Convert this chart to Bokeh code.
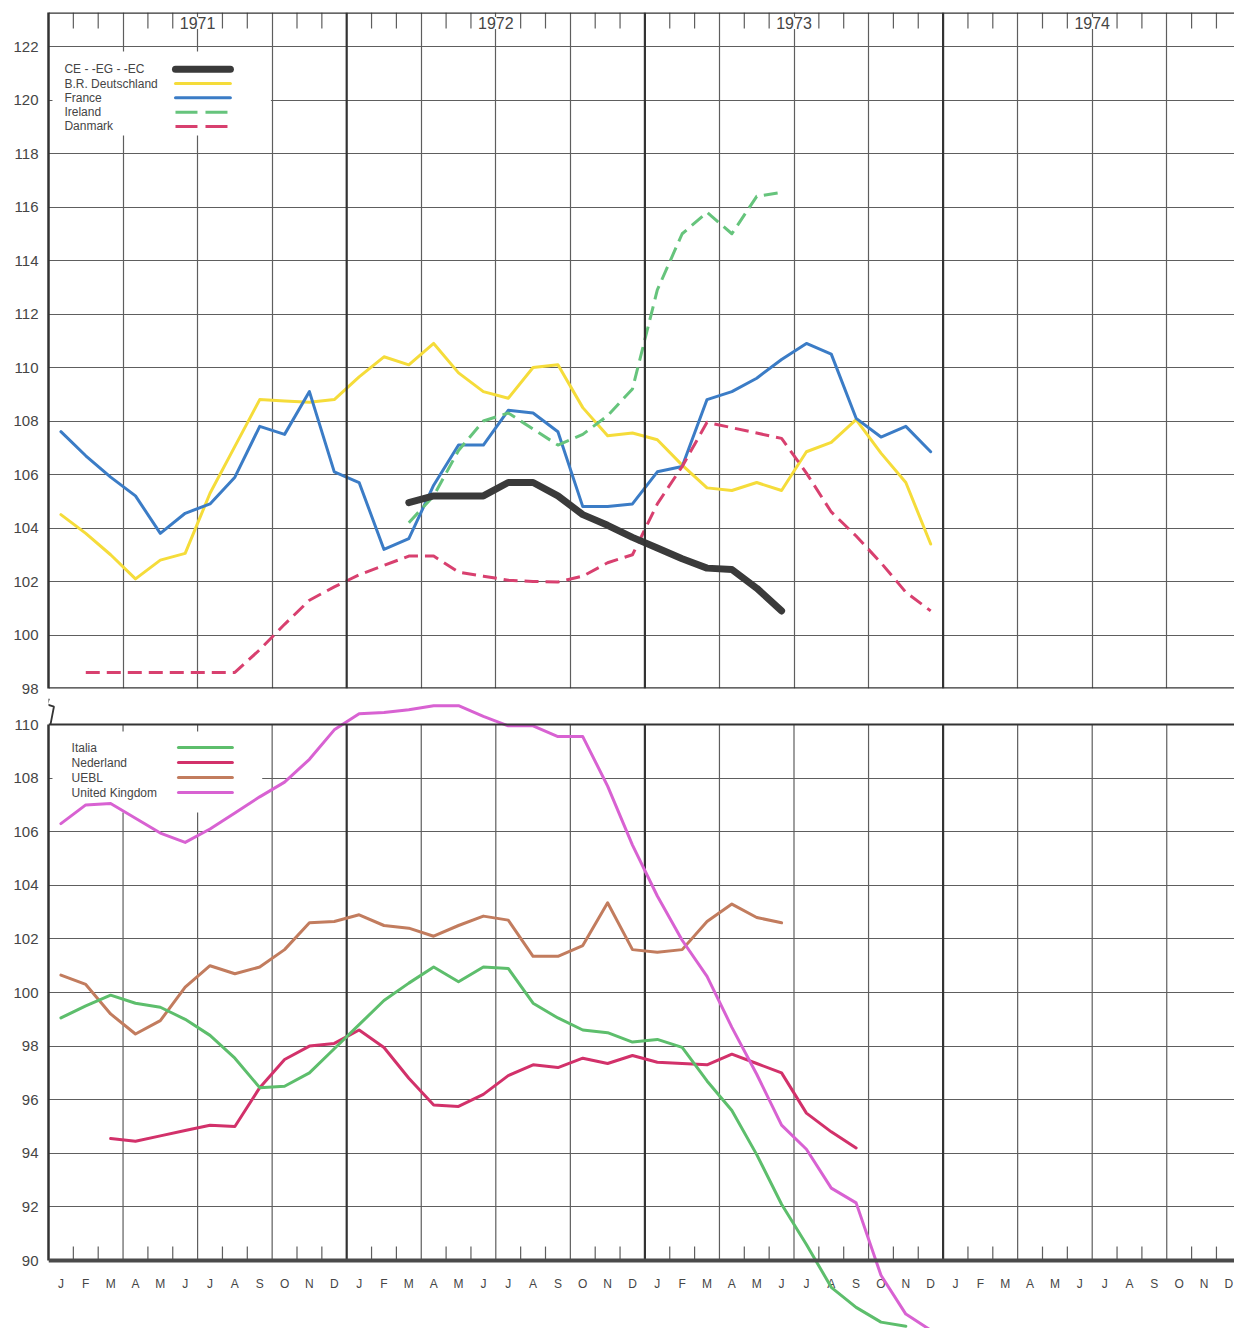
from bokeh.plotting import figure
from bokeh.layouts import column
from bokeh.models import FixedTicker, Span, Label
from bokeh.core.properties import value
from bokeh.embed import file_html
from bokeh.resources import INLINE

# month 0 = January 1971, each value sits in the middle of its month
month_letters = ['J', 'F', 'M', 'A', 'M', 'J', 'J', 'A', 'S', 'O', 'N', 'D']
years = ['1971', '1972', '1973', '1974']

# upper panel (index 98 - 122)
ec_start = 14
ec = [104.95, 105.2, 105.2, 105.2, 105.7, 105.7, 105.2, 104.5, 104.1, 103.65,
      103.25, 102.85, 102.5, 102.45, 101.75, 100.9]

deutschland_start = 0
deutschland = [104.5, 103.8, 103.0, 102.1, 102.8, 103.05, 105.3, 107.05, 108.8, 108.75, 108.7, 108.8,
               109.65, 110.4, 110.1, 110.9, 109.8, 109.1, 108.85, 110.0, 110.1, 108.5, 107.45, 107.55,
               107.3, 106.35, 105.5, 105.4, 105.7, 105.4, 106.85, 107.2, 108.05, 106.8, 105.7, 103.4]

france_start = 0
france = [107.6, 106.7, 105.9, 105.2, 103.8, 104.55, 104.9, 105.9, 107.8, 107.5, 109.1, 106.1,
          105.7, 103.2, 103.6, 105.6, 107.1, 107.1, 108.4, 108.3, 107.6, 104.8, 104.8, 104.9,
          106.1, 106.3, 108.8, 109.1, 109.6, 110.3, 110.9, 110.5, 108.1, 107.4, 107.8, 106.85]

ireland_start = 14
ireland = [104.2, 105.2, 106.9, 108.0, 108.3, 107.7, 107.1, 107.5, 108.2, 109.2,
           112.9, 115.0, 115.8, 115.0, 116.4, 116.55]

danmark_start = 1
danmark = [98.6, 98.6, 98.6, 98.6, 98.6, 98.6, 98.6, 99.45, 100.4, 101.3, 101.8,
           102.25, 102.6, 102.95, 102.95, 102.35, 102.2, 102.05, 102.0, 101.98, 102.2, 102.7, 103.0,
           104.9, 106.3, 107.95, 107.75, 107.55, 107.35, 106.05, 104.6, 103.7, 102.7, 101.6, 100.9]

# lower panel (index 90 - 110)
italia_start = 0
italia = [99.05, 99.5, 99.9, 99.6, 99.45, 99.0, 98.4, 97.55, 96.45, 96.5, 97.0, 97.9,
          98.8, 99.7, 100.35, 100.95, 100.4, 100.95, 100.9, 99.6, 99.05, 98.6, 98.5, 98.15,
          98.25, 97.95, 96.7, 95.6, 93.95, 92.1, 90.6, 89.0, 88.25, 87.7, 87.55]

nederland_start = 2
nederland = [94.55, 94.45, 94.65, 94.85, 95.05, 95.0, 96.45, 97.5, 98.0, 98.1,
             98.6, 97.95, 96.8, 95.8, 95.75, 96.2, 96.9, 97.3, 97.2, 97.55, 97.35, 97.65,
             97.4, 97.35, 97.3, 97.7, 97.35, 97.0, 95.5, 94.8, 94.2]

uebl_start = 0
uebl = [100.65, 100.3, 99.2, 98.45, 98.95, 100.2, 101.0, 100.7, 100.95, 101.6, 102.6, 102.65,
        102.9, 102.5, 102.4, 102.1, 102.5, 102.85, 102.7, 101.35, 101.35, 101.75, 103.35, 101.6,
        101.5, 101.6, 102.65, 103.3, 102.8, 102.6]

uk_start = 0
uk = [106.3, 107.0, 107.05, 106.5, 105.95, 105.6, 106.1, 106.7, 107.3, 107.85, 108.7, 109.8,
      110.4, 110.45, 110.55, 110.7, 110.7, 110.3, 109.95, 109.95, 109.55, 109.55, 107.7, 105.5,
      103.6, 101.95, 100.6, 98.7, 96.95, 95.05, 94.15, 92.7, 92.15, 89.45, 88.0, 87.4]

FONT = 'Liberation Sans'
INK = '#333333'
GRID = '#5e5e5e'
TEXT = '#454545'

W = 1234
LEFT = 48
PX_MONTH = 24.85       # pixels per month on the original sheet
PX_UNIT_TOP = 26.75    # pixels per index point, upper panel
PX_UNIT_BOT = 26.8     # pixels per index point, lower panel
X_END = (W - LEFT) / PX_MONTH

quarters = [m for m in range(3, 48, 3) if m % 12]
year_lines = [12, 24, 36]
month_ticks = [m for m in range(1, 48) if m % 3]


def months(start, vals):
    return [start + i + 0.5 for i in range(len(vals))]


def style_y(p, ticks):
    ax = p.yaxis[0]
    ax.ticker = FixedTicker(ticks=ticks)
    ax.major_tick_out = 0
    ax.major_tick_in = 0
    ax.minor_tick_line_color = None
    ax.axis_line_width = 2.5
    ax.axis_line_color = INK
    ax.major_label_text_font = FONT
    ax.major_label_text_font_size = '15px'
    ax.major_label_text_color = TEXT
    ax.major_label_standoff = 10


def draw_series(p, series):
    for name, start, vals, color, width, dash in series:
        p.line(months(start, vals), vals, line_color=color, line_width=width,
               line_dash=dash, line_join='round',
               line_cap='round' if dash == 'solid' else 'butt')


def draw_legend(p, series, x_text, x0, x1, y_first, y_step):
    ys = [y_first - i * y_step for i in range(len(series))]
    p.text(x=[x_text] * len(series), y=ys, text=[s[0] for s in series],
           text_font=value(FONT), text_font_size='12px', text_color=TEXT,
           text_baseline='middle')
    for (name, start, vals, color, width, dash), y in zip(series, ys):
        p.line([x0, x1], [y, y], line_color=color, line_width=width,
               line_dash='22 8' if dash != 'solid' else 'solid',
               line_cap='round' if dash == 'solid' else 'butt')


# ---------------- upper panel ----------------
top_h = 698
top_y_end = 98 + (top_h - 12 - 10) / PX_UNIT_TOP
top = figure(width=W, height=top_h, x_range=(0, X_END), y_range=(98, top_y_end),
             x_axis_location=None, output_backend='svg', toolbar_location=None,
             min_border_left=LEFT, min_border_right=0, min_border_top=12, min_border_bottom=10)
top.outline_line_color = None
top.background_fill_color = 'white'
style_y(top, list(range(98, 123, 2)))
top.ygrid.ticker = FixedTicker(ticks=list(range(100, 123, 2)))
top.xgrid.ticker = FixedTicker(ticks=quarters)
for g in (top.xgrid[0], top.ygrid[0]):
    g.grid_line_color = GRID
    g.grid_line_width = 1.2
for m in year_lines:
    top.add_layout(Span(location=m, dimension='height', line_color=INK, line_width=2.2))
# frame: top edge and bottom edge of the upper sheet
top.add_layout(Span(location=top_y_end, dimension='width', line_color=INK, line_width=2.6))
top.add_layout(Span(location=98, dimension='width', line_color=INK, line_width=2.4))
top.segment(x0=month_ticks, y0=[top_y_end] * len(month_ticks),
            x1=month_ticks, y1=[top_y_end - 0.6] * len(month_ticks),
            line_color=GRID, line_width=1.2)
for i, yr in enumerate(years):
    top.add_layout(Label(x=12 * i + 6, y=122.88, text=yr, text_align='center',
                         text_baseline='middle', text_font=FONT, text_font_size='16px',
                         text_color=TEXT, background_fill_color='white',
                         background_fill_alpha=1.0))

top_series = [
    ('CE - -EG - -EC', ec_start, ec, '#3a3a3a', 7, 'solid'),
    ('B.R. Deutschland', deutschland_start, deutschland, '#f5dc3a', 3, 'solid'),
    ('France', france_start, france, '#3b7cc6', 3, 'solid'),
    ('Ireland', ireland_start, ireland, '#66c47c', 3, '14 7'),
    ('Danmark', danmark_start, danmark, '#d8406f', 3, '14 7'),
]
# white ground under the legend
top.quad(left=[0.16], right=[8.95], bottom=[118.67], top=[121.81],
         fill_color='white', line_color=None)
draw_series(top, top_series[1:] + top_series[:1])
draw_legend(top, top_series, 0.64, 5.11, 7.32, 121.15, 0.535)

# ---------------- lower panel ----------------
bot_h = 630
bot_y_end = 110 + 26 / PX_UNIT_BOT
bot = figure(width=W, height=bot_h, x_range=top.x_range,
             y_range=(bot_y_end - bot_h / PX_UNIT_BOT, bot_y_end),
             x_axis_location=None, output_backend='svg', toolbar_location=None,
             min_border_left=LEFT, min_border_right=0, min_border_top=0, min_border_bottom=0)
bot.outline_line_color = None
bot.background_fill_color = 'white'
style_y(bot, list(range(90, 111, 2)))
bot.yaxis[0].bounds = (90, 110)
bot.ygrid.ticker = FixedTicker(ticks=list(range(92, 109, 2)))
bot.ygrid.grid_line_color = GRID
bot.ygrid.grid_line_width = 1.2
bot.xgrid.grid_line_color = None
bot.segment(x0=quarters, y0=[90] * len(quarters), x1=quarters, y1=[110] * len(quarters),
            line_color=GRID, line_width=1.2)
bot.segment(x0=year_lines, y0=[90] * 3, x1=year_lines, y1=[110] * 3,
            line_color=INK, line_width=2.2)
bot.segment(x0=month_ticks, y0=[90] * len(month_ticks),
            x1=month_ticks, y1=[90 + 0.52] * len(month_ticks),
            line_color=GRID, line_width=1.2)
bot.add_layout(Span(location=110, dimension='width', line_color=INK, line_width=2.2))
bot.add_layout(Span(location=90, dimension='width', line_color='#4a4a4a', line_width=4))
# axis break mark between the two panels
bot.line([0.02, -0.06, 0.22, 0.08], [110.97, 110.75, 110.67, 110.0],
         line_color=INK, line_width=1.8)

all_months = list(range(48))
bot.text(x=[m + 0.5 for m in all_months], y=[89.14] * 48,
         text=[month_letters[m % 12] for m in all_months],
         text_font=value(FONT), text_font_size='12px', text_color=TEXT,
         text_align='center', text_baseline='middle')

bot_series = [
    ('Italia', italia_start, italia, '#5dbe6c', 3, 'solid'),
    ('Nederland', nederland_start, nederland, '#d2316a', 3, 'solid'),
    ('UEBL', uebl_start, uebl, '#c27c5e', 3, 'solid'),
    ('United Kingdom', uk_start, uk, '#d862d2', 3, 'solid'),
]
bot.quad(left=[0.16], right=[8.6], bottom=[106.72], top=[109.74],
         fill_color='white', line_color=None)
draw_series(bot, [bot_series[2], bot_series[1], bot_series[0], bot_series[3]])
draw_legend(bot, bot_series, 0.93, 5.23, 7.40, 109.14, 0.56)

layout = column(top, bot, spacing=0)
open("out.html", "w").write(file_html(layout, INLINE))
